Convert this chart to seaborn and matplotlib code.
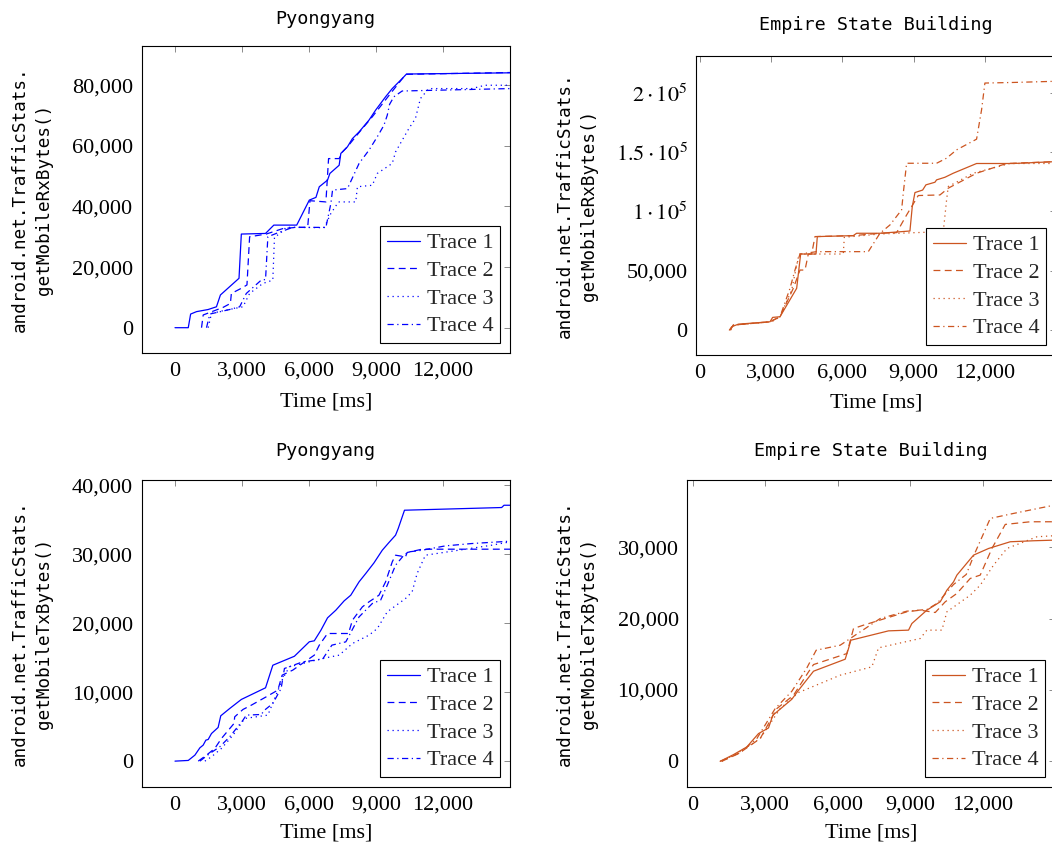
import matplotlib
matplotlib.use("Agg")
import matplotlib.pyplot as plt
import seaborn as sns
import pandas as pd

sns.set_theme(style="white")
plt.rcParams["font.family"] = ["Liberation Serif", "DejaVu Serif"]
plt.rcParams["mathtext.fontset"] = "stix"

# ---------------- data: Pyongyang, RxBytes ----------------
pr_t1_x = [0, 594, 700, 965, 1485, 1856, 2034, 2866, 2970, 4054, 4425, 5450, 6014, 6311, 6460, 6830, 6935,
           7350, 7425, 7722, 7945, 8242, 8687, 8984, 9430, 9727, 10172, 10365, 15000]
pr_t1_y = [0, 0, 4500, 5300, 6000, 6900, 10800, 16300, 30900, 31100, 33850, 33850, 42100, 43000, 46500,
           48700, 50900, 53600, 57500, 59700, 62400, 64600, 68500, 71800, 76200, 78900, 82200, 83700, 84100]
pr_t2_x = [1188, 1262, 2153, 2480, 2524, 2970, 3222, 3341, 4084, 4826, 5420, 5940, 6044, 6757, 6876, 7350,
           7500, 7722, 8242, 8836, 9652, 10247, 10320, 15000]
pr_t2_y = [0, 4200, 6700, 8000, 11300, 13000, 14100, 30000, 30900, 32700, 33100, 33100, 41900, 41500, 55800,
           55800, 58000, 59700, 64400, 69600, 77300, 82800, 83600, 84200]
pr_t3_x = [1485, 1634, 2153, 3044, 3341, 3935, 4380, 4455, 4678, 4975, 5420, 6680, 6980, 7320, 8093, 8168,
           8836, 9058, 9727, 9876, 10470, 10765, 10988, 11360, 13290, 13884, 15000]
pr_t3_y = [0, 4700, 5600, 6900, 11300, 14600, 15700, 30000, 30900, 33100, 33100, 33000, 37700, 41500, 41500,
           46500, 47000, 50900, 54200, 58000, 65700, 69000, 75600, 78900, 78900, 80000, 80000]
pr_t4_x = [1410, 1560, 2450, 2896, 3193, 3861, 4054, 4158, 4530, 5272, 6756, 6980, 7054, 7722, 8242, 8687,
           9058, 9355, 9504, 9608, 9801, 10172, 15000]
pr_t4_y = [0, 4500, 6000, 6900, 11300, 15700, 15900, 30000, 31100, 33100, 33100, 41000, 45400, 45900, 54200,
           58600, 63000, 66800, 70100, 73700, 76200, 78100, 78900]

# ---------------- data: Empire State Building, RxBytes ----------------
er_t1_x = [1236, 1334, 1615, 2948, 3060, 3370, 4072, 4240, 4886, 4942, 6458, 6598, 7582, 8845, 8943, 9056,
           9379, 9519, 9898, 9968, 10320, 10670, 11653, 13200, 15000]
er_t1_y = [0, 2800, 5000, 7000, 10700, 11250, 35200, 64100, 64100, 78800, 79600, 81600, 81600, 83500, 104000,
           115900, 118000, 122400, 124600, 126600, 128800, 132200, 140400, 140400, 142000]
er_t2_x = [1264, 1404, 2948, 3370, 3931, 4212, 4423, 4563, 4703, 4844, 6458, 7582, 8283, 8705, 9196, 10110,
           10460, 11653, 12917, 15000]
er_t2_y = [0, 4200, 7000, 11250, 35200, 50600, 50600, 64100, 64100, 78800, 79600, 81600, 82100, 97000, 113400,
           113900, 119600, 132200, 140400, 142000]
er_t3_x = [1292, 1404, 3018, 3370, 3861, 4170, 6037, 6079, 7582, 10250, 10390, 10460, 11512, 13057, 15000]
er_t3_y = [0, 4200, 7000, 11250, 33750, 64100, 64100, 78200, 81000, 83000, 109700, 121000, 132200, 140400,
           140400]
er_t4_x = [1264, 1404, 2948, 3370, 3791, 4001, 4212, 4914, 7090, 7582, 8003, 8494, 8564, 8705, 9968, 10390,
           10811, 11653, 11864, 12004, 13197, 15000]
er_t4_y = [0, 4200, 7000, 11250, 35200, 50600, 64100, 66100, 66100, 81600, 88600, 101300, 115300, 140600,
           140600, 144900, 151900, 160900, 185700, 208200, 208700, 209700]

# ---------------- data: Pyongyang, TxBytes ----------------
pt_t1_x = [0, 594, 891, 1114, 1262, 1381, 1485, 1634, 1931, 2049, 2450, 2970, 4054, 4380, 5346, 6014, 6237,
           6534, 6830, 7202, 7573, 7870, 8242, 8539, 8910, 9281, 9578, 9875, 9994, 10276, 14627, 14731, 15000]
pt_t1_y = [0, 100, 870, 1930, 2320, 3040, 3140, 4000, 4880, 6570, 7630, 8940, 10630, 13900, 15200, 17300,
           17440, 18980, 20770, 21880, 23230, 24050, 25990, 27190, 28740, 30570, 31680, 32750, 33710, 36370,
           36760, 37090, 37090]
pt_t2_x = [1040, 1411, 1782, 2079, 2643, 2673, 3044, 3416, 4084, 4604, 4797, 5272, 6237, 6460, 6830, 7767,
           7945, 8390, 8687, 9133, 9430, 9727, 9876, 10321, 10395, 11063, 15000]
pt_t2_y = [0, 870, 1840, 3280, 5460, 6420, 7490, 8110, 9320, 10290, 12460, 13190, 15360, 16810, 18500, 18500,
           20430, 22360, 23090, 24050, 25990, 28880, 29850, 29610, 30240, 30720, 30720]
pt_t3_x = [1337, 1634, 2079, 2599, 3119, 4158, 4826, 5123, 6608, 7351, 7945, 8687, 9058, 9504, 10321, 10618,
           10840, 11212, 12697, 14182, 15000]
pt_t3_y = [0, 630, 1840, 3770, 6180, 6670, 11980, 13670, 14880, 15360, 17050, 18260, 19220, 21640, 23570,
           24540, 27190, 29850, 30570, 31300, 31780]
pt_t4_x = [1114, 1560, 2005, 2450, 3044, 3193, 3861, 4010, 4380, 4752, 4900, 5717, 6608, 7024, 7648, 8242,
           8836, 9207, 9504, 9876, 10247, 10469, 11063, 12103, 13290, 15000]
pt_t4_y = [0, 1110, 2080, 3530, 5940, 6670, 6760, 7390, 8360, 10530, 13430, 14390, 14780, 16810, 17290,
           20910, 22850, 23330, 25500, 28400, 29850, 30330, 30570, 31200, 31540, 31880]

# ---------------- data: Empire State Building, TxBytes ----------------
et_t1_x = [1132, 1685, 2237, 2721, 3135, 3315, 4101, 4378, 5000, 6311, 6449, 6546, 8106, 8935, 9073, 9694,
           10247, 10523, 10799, 10937, 11628, 12250, 13147, 14114, 15000]
et_t1_y = [0, 935, 2010, 3880, 4670, 6450, 8690, 9950, 12620, 14300, 15800, 16960, 18270, 18370, 19300,
           21170, 22340, 23970, 25140, 26080, 28880, 29810, 30750, 30890, 30980]
et_t2_x = [1201, 1892, 2790, 3480, 4171, 4792, 5000, 6380, 6656, 7071, 8866, 9418, 10040, 10454, 10937,
           11490, 11904, 12388, 12940, 13976, 15000]
et_t2_y = [0, 1070, 3180, 7380, 9250, 12520, 13550, 15090, 18600, 19070, 20940, 21170, 20840, 22340, 23510,
           25610, 26080, 29810, 33180, 33550, 33550]
et_t3_x = [1201, 1823, 2790, 3618, 4378, 6104, 7416, 7692, 9418, 9694, 10316, 10523, 11490, 11904, 12457,
           13009, 14252, 15000]
et_t3_y = [0, 1070, 3180, 7380, 9630, 12060, 13230, 15890, 17200, 18370, 18370, 20940, 23270, 24670, 27480,
           29810, 31450, 31600]
et_t4_x = [1132, 1961, 2652, 3411, 4101, 4723, 5110, 6104, 7761, 8866, 9694, 10109, 10799, 11324, 11656,
           12319, 13286, 15000]
et_t4_y = [0, 1210, 3180, 7380, 9810, 13080, 15560, 16260, 20000, 21030, 21260, 22100, 24770, 26170, 28970,
           34020, 34720, 35900]

trace_names = ["Trace 1", "Trace 2", "Trace 3", "Trace 4"]
x_ticks = [0, 3000, 6000, 9000, 12000]
x_ticklabels = ["0", "3,000", "6,000", "9,000", "12,000"]
titles = ["Pyongyang", "Empire State Building"]
ylabels = ["android.net.TrafficStats.\ngetMobileRxBytes()", "android.net.TrafficStats.\ngetMobileTxBytes()"]

BLUE = "#0000FF"
ORANGE = "#CC5520"
LW = 0.9
dash_patterns = [None, (5.5, 3.5), (1.0, 3.0), (5.0, 2.8, 1.0, 2.8)]

W, H = 1052, 850
fig = plt.figure(figsize=(W / 100, H / 100), dpi=100)


def px_axes(left, top, right, bottom):
    return fig.add_axes([left / W, 1 - bottom / H, (right - left) / W, (bottom - top) / H])


panels = [
    dict(box=(141.5, 46, 510, 353), traces=[(pr_t1_x, pr_t1_y), (pr_t2_x, pr_t2_y), (pr_t3_x, pr_t3_y), (pr_t4_x, pr_t4_y)],
         color=BLUE, title=titles[0], ylabel=ylabels[0], xlim=(-1500, 15000), ylim=(-8350, 92950),
         yticks=[0, 20000, 40000, 60000, 80000], yticklabels=["0", "20,000", "40,000", "60,000", "80,000"],
         labelx=-0.241, pad=16, xlab=-0.128),
    dict(box=(696, 56, 1056, 355), traces=[(er_t1_x, er_t1_y), (er_t2_x, er_t2_y), (er_t3_x, er_t3_y), (er_t4_x, er_t4_y)],
         color=ORANGE, title=titles[1], ylabel=ylabels[0], xlim=(-170, 15000), ylim=(-21000, 231000),
         yticks=[0, 50000, 100000, 150000, 200000],
         yticklabels=["0", "50,000", r"$1\cdot10^{5}$", r"$1.5\cdot10^{5}$", r"$2\cdot10^{5}$"],
         labelx=-0.272, pad=18.5, xlab=-0.13),
    dict(box=(141.5, 480, 510, 787), traces=[(pt_t1_x, pt_t1_y), (pt_t2_x, pt_t2_y), (pt_t3_x, pt_t3_y), (pt_t4_x, pt_t4_y)],
         color=BLUE, title=titles[0], ylabel=ylabels[1], xlim=(-1500, 15000), ylim=(-3750, 40750),
         yticks=[0, 10000, 20000, 30000, 40000], yticklabels=["0", "10,000", "20,000", "30,000", "40,000"],
         labelx=-0.241, pad=17, xlab=-0.12),
    dict(box=(687, 480, 1055, 787), traces=[(et_t1_x, et_t1_y), (et_t2_x, et_t2_y), (et_t3_x, et_t3_y), (et_t4_x, et_t4_y)],
         color=ORANGE, title=titles[1], ylabel=ylabels[1], xlim=(-240, 15000), ylim=(-3600, 39400),
         yticks=[0, 10000, 20000, 30000], yticklabels=["0", "10,000", "20,000", "30,000"],
         labelx=-0.242, pad=17, xlab=-0.12),
]

for p in panels:
    ax = px_axes(*p["box"])
    for name, (xs, ys), dp in zip(trace_names, p["traces"], dash_patterns):
        df = pd.DataFrame({"Time [ms]": xs, "bytes": ys})
        sns.lineplot(data=df, x="Time [ms]", y="bytes", color=p["color"], linewidth=LW,
                     estimator=None, sort=False, label=name, ax=ax)
        line = ax.get_lines()[-1]
        if dp is None:
            line.set_linestyle("-")
        else:
            line.set_dashes(dp)
    ax.set_xlim(*p["xlim"])
    ax.set_ylim(*p["ylim"])
    ax.set_xticks(x_ticks)
    ax.set_xticklabels(x_ticklabels)
    ax.set_yticks(p["yticks"])
    ax.set_yticklabels(p["yticklabels"])
    ax.tick_params(axis="both", which="major", direction="in", length=4.5, width=0.6, color="#777777",
                   labelsize=16, labelcolor="black", top=True, right=True)
    ax.tick_params(axis="x", pad=6.5)
    ax.tick_params(axis="y", pad=6)
    for s in ax.spines.values():
        s.set_visible(True)
        s.set_color("black")
        s.set_linewidth(0.8)
    ax.set_xlabel("Time [ms]", fontsize=16, color="black")
    ax.xaxis.set_label_coords(0.5, p["xlab"])
    ax.set_ylabel(p["ylabel"], fontsize=12.7, family="DejaVu Sans Mono", linespacing=1.45,
                  color="black", multialignment="center")
    ax.yaxis.set_label_coords(p["labelx"], 0.5)
    ax.set_title(p["title"], family="DejaVu Sans Mono", fontsize=13.3, pad=p["pad"], color="black")
    ax.grid(False)
    leg = ax.legend(loc="lower right", fontsize=16, frameon=True, fancybox=False, framealpha=1,
                    edgecolor="black", handlelength=1.5, handletextpad=0.3, borderpad=0.3,
                    labelspacing=0.32, borderaxespad=0.45)
    leg.get_frame().set_linewidth(0.8)

fig.savefig("out.png", dpi=100)
